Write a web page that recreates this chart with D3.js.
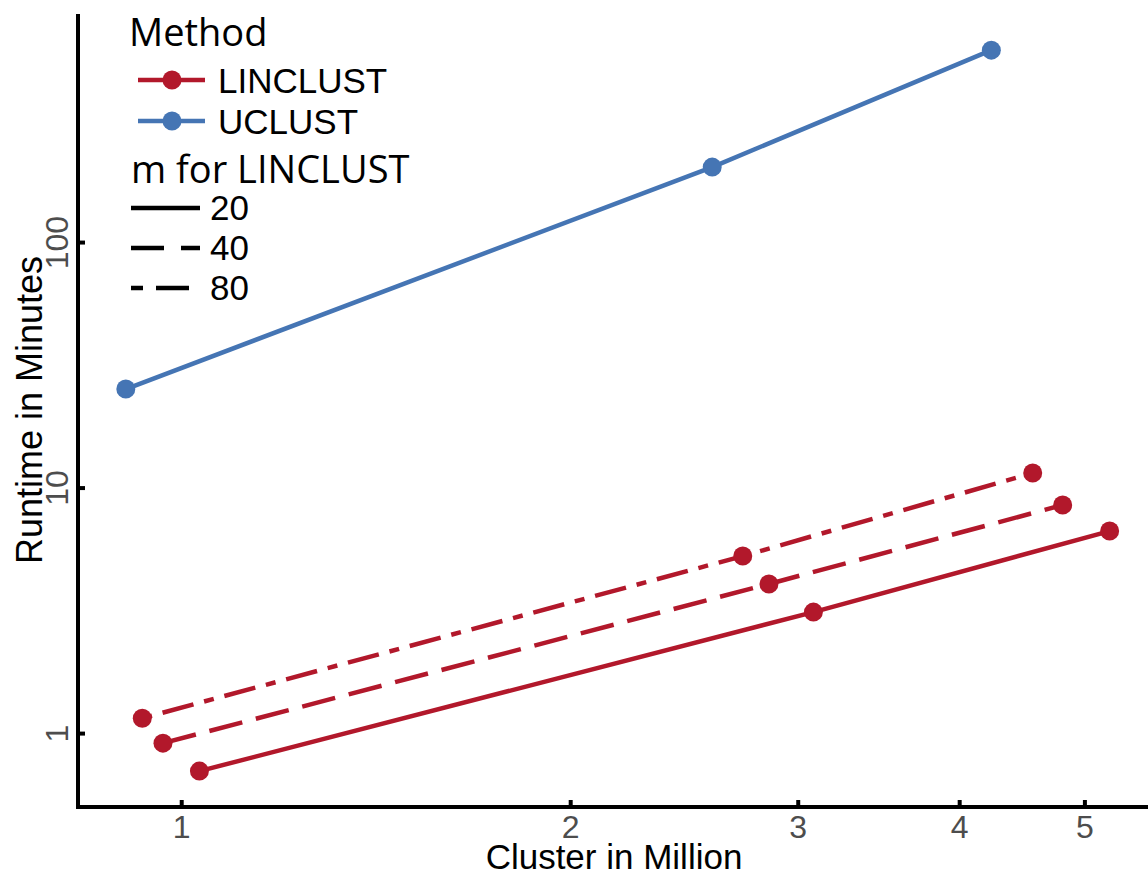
<!DOCTYPE html>
<html>
<head>
<meta charset="utf-8">
<script src="https://cdn.jsdelivr.net/npm/d3@7"></script>
<style>
  body { margin: 0; background: #fff; }
  svg { display: block; }
</style>
</head>
<body>
<div id="chart"></div>
<script>
// data (cluster count in million, runtime in minutes)
const uclustX = [0.906, 2.576, 4.236];
const uclustY = [25.2, 202, 605];
const lin20X = [1.033, 3.085, 5.23];
const lin20Y = [0.70, 3.11, 6.65];
const lin40X = [0.968, 2.85, 4.81];
const lin40Y = [0.91, 4.05, 8.49];
const lin80X = [0.933, 2.72, 4.56];
const lin80Y = [1.15, 5.26, 11.46];

const xTicks = [1, 2, 3, 4, 5];
const yTicks = [1, 10, 100];

const methodNames = ['LINCLUST', 'UCLUST'];
const mValues = ['20', '40', '80'];

const width = 1148, height = 875;
const plotLeft = 78, plotRight = 1148, plotTop = 14, plotBottom = 807;

const red = '#b2182b', blue = '#4575b4';
const dashes = { '20': null, '40': '34,14', '80': '10,11,32,11' };

const svg = d3.select('#chart').append('svg')
  .attr('width', width)
  .attr('height', height);

const x = d3.scaleLog().domain([0.832, 5.6]).range([plotLeft, plotRight]);
const y = d3.scaleLog().domain([0.5, 849]).range([plotBottom, plotTop]);

const series = [
  { name: 'UCLUST', xs: uclustX, ys: uclustY, color: blue, dash: null },
  { name: 'LINCLUST', m: '20', xs: lin20X, ys: lin20Y, color: red, dash: dashes['20'] },
  { name: 'LINCLUST', m: '40', xs: lin40X, ys: lin40Y, color: red, dash: dashes['40'] },
  { name: 'LINCLUST', m: '80', xs: lin80X, ys: lin80Y, color: red, dash: dashes['80'] }
];

const line = d3.line().x(d => x(d[0])).y(d => y(d[1]));

series.forEach(s => {
  const pts = s.xs.map((v, i) => [v, s.ys[i]]);
  svg.append('path')
    .datum(pts)
    .attr('d', line)
    .attr('fill', 'none')
    .attr('stroke', s.color)
    .attr('stroke-width', 4.5)
    .attr('stroke-dasharray', s.dash);
  svg.append('g').selectAll('circle')
    .data(pts)
    .enter().append('circle')
    .attr('cx', d => x(d[0]))
    .attr('cy', d => y(d[1]))
    .attr('r', 9.5)
    .attr('fill', s.color);
});

// axes
const xAxis = svg.append('g')
  .attr('transform', `translate(0,${plotBottom})`)
  .call(d3.axisTop(x).tickValues(xTicks).tickFormat(d3.format('d')).tickSize(7).tickPadding(0));
xAxis.select('.domain').remove();
xAxis.selectAll('.tick line').attr('stroke', '#000').attr('stroke-width', 4);
xAxis.selectAll('.tick text')
  .attr('y', 31)
  .attr('dy', null)
  .attr('fill', '#4d4d4d')
  .style('font-family', 'Liberation Sans, Arial, sans-serif')
  .style('font-size', '32px');

const yAxis = svg.append('g')
  .attr('transform', `translate(${plotLeft},0)`)
  .call(d3.axisRight(y).tickValues(yTicks).tickFormat(d3.format('d')).tickSize(7));
yAxis.select('.domain').remove();
yAxis.selectAll('.tick line').attr('stroke', '#000').attr('stroke-width', 4);
yAxis.selectAll('.tick text')
  .attr('x', null)
  .attr('dy', null)
  .attr('text-anchor', 'middle')
  .attr('transform', 'translate(-10,0) rotate(-90)')
  .attr('fill', '#4d4d4d')
  .style('font-family', 'Liberation Sans, Arial, sans-serif')
  .style('font-size', '32px');

svg.append('path')
  .attr('d', `M${plotLeft},${plotTop}V${plotBottom}H${plotRight}`)
  .attr('fill', 'none')
  .attr('stroke', '#000')
  .attr('stroke-width', 4);

// axis titles
svg.append('text')
  .attr('x', 614).attr('y', 869)
  .attr('text-anchor', 'middle')
  .style('font-family', 'Liberation Sans, Arial, sans-serif')
  .style('font-size', '35px')
  .text('Cluster in Million');

svg.append('text')
  .attr('transform', 'translate(42,410) rotate(-90)')
  .attr('text-anchor', 'middle')
  .style('font-family', 'Liberation Sans, Arial, sans-serif')
  .style('font-size', '36px')
  .text('Runtime in Minutes');

// legend
const lg = svg.append('g');
lg.append('text')
  .attr('x', 129).attr('y', 46)
  .style('font-family', 'Open Sans, sans-serif')
  .style('font-size', '38px')
  .text('Method');

methodNames.forEach((n, i) => {
  const cy = 80 + i * 41;
  const c = n === 'LINCLUST' ? red : blue;
  lg.append('line')
    .attr('x1', 138).attr('x2', 205).attr('y1', cy).attr('y2', cy)
    .attr('stroke', c).attr('stroke-width', 4.5);
  lg.append('circle').attr('cx', 172).attr('cy', cy).attr('r', 9.5).attr('fill', c);
  lg.append('text')
    .attr('x', 218).attr('y', cy + 13)
    .style('font-family', 'Liberation Sans, Arial, sans-serif')
    .style('font-size', '35px')
    .text(n);
});

lg.append('text')
  .attr('x', 131).attr('y', 183)
  .style('font-family', 'Open Sans, sans-serif')
  .style('font-size', '38px')
  .text('m for LINCLUST');

mValues.forEach((m, i) => {
  const cy = 208 + i * 40;
  lg.append('line')
    .attr('x1', 131).attr('x2', 200).attr('y1', cy).attr('y2', cy)
    .attr('stroke', '#000').attr('stroke-width', 4.5)
    .attr('stroke-dasharray', m === '20' ? null : (m === '40' ? '33,17' : '12,13,33,13'));
  lg.append('text')
    .attr('x', 210).attr('y', cy + 12)
    .style('font-family', 'Liberation Sans, Arial, sans-serif')
    .style('font-size', '35px')
    .text(m);
});
</script>
</body>
</html>
